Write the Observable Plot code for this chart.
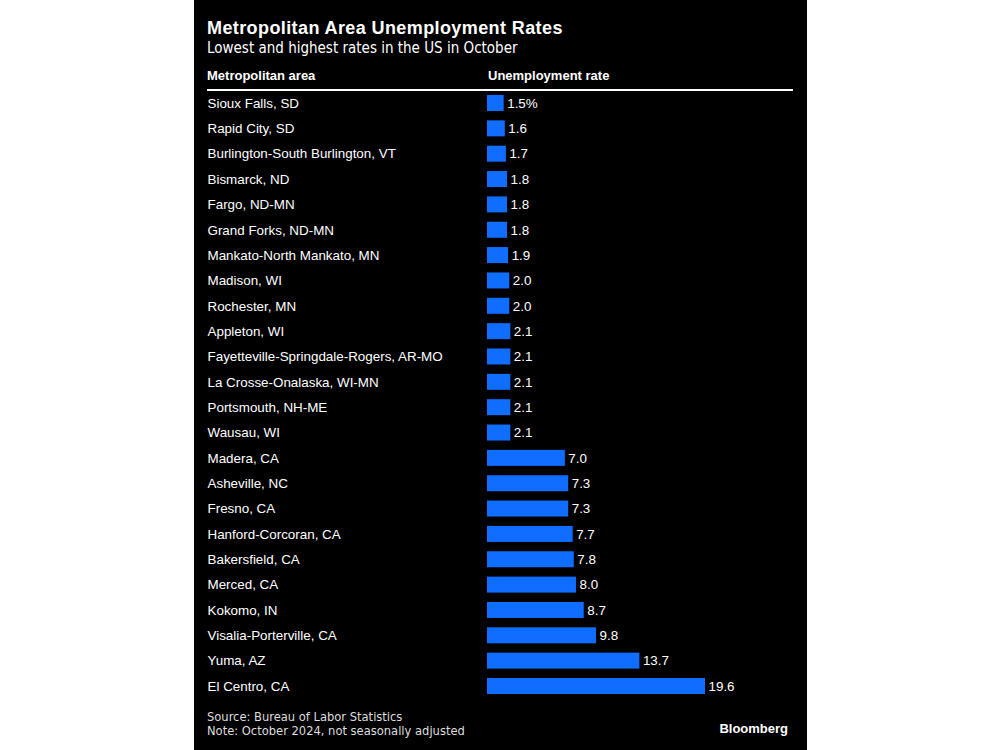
<!DOCTYPE html>
<html>
<head>
<meta charset="utf-8">
<script src="https://cdn.jsdelivr.net/npm/d3@7"></script>
<script src="https://cdn.jsdelivr.net/npm/@observablehq/plot@0.6"></script>
<style>
  html, body { margin: 0; padding: 0; background: #fff; width: 1000px; height: 750px; overflow: hidden; }
  #panel { position: absolute; left: 194px; top: 0; width: 613px; height: 750px; background: #000; color: #fff; font-family: "Liberation Sans", Arial, sans-serif; }
  .abs { position: absolute; white-space: nowrap; }
  #title { left: 13px; top: 18px; font-size: 18px; line-height: 20px; font-weight: bold; letter-spacing: 0.4px; }
  #subtitle { left: 13px; top: 40px; font-size: 15px; line-height: 16px; font-family: "Liberation Sans Narrow", "DejaVu Sans Condensed", "Liberation Sans", sans-serif; font-stretch: condensed; }
  .hdr { top: 68px; font-size: 13px; line-height: 15px; font-weight: bold; }
  #rule { left: 13px; top: 89px; width: 586px; height: 2px; background: #fff; }
  #chart { left: 0; top: 91px; }
  .foot { left: 13px; font-size: 12.8px; line-height: 14px; color: #ddd; font-family: "Liberation Sans Narrow", "DejaVu Sans Condensed", "Liberation Sans", sans-serif; font-stretch: condensed; }
  #logo { right: 19px; top: 721px; font-size: 13px; line-height: 15px; font-weight: bold; }
</style>
</head>
<body>
<div id="panel">
  <div id="title" class="abs">Metropolitan Area Unemployment Rates</div>
  <div id="subtitle" class="abs">Lowest and highest rates in the US in October</div>
  <div class="abs hdr" style="left:13px">Metropolitan area</div>
  <div class="abs hdr" style="left:294px">Unemployment rate</div>
  <div id="rule" class="abs"></div>
  <div id="chart" class="abs"></div>
  <div class="abs foot" style="top:710px">Source: Bureau of Labor Statistics</div>
  <div class="abs foot" style="top:724px">Note: October 2024, not seasonally adjusted</div>
  <div id="logo" class="abs">Bloomberg</div>
</div>
<script>
const metros = [
  "Sioux Falls, SD",
  "Rapid City, SD",
  "Burlington-South Burlington, VT",
  "Bismarck, ND",
  "Fargo, ND-MN",
  "Grand Forks, ND-MN",
  "Mankato-North Mankato, MN",
  "Madison, WI",
  "Rochester, MN",
  "Appleton, WI",
  "Fayetteville-Springdale-Rogers, AR-MO",
  "La Crosse-Onalaska, WI-MN",
  "Portsmouth, NH-ME",
  "Wausau, WI",
  "Madera, CA",
  "Asheville, NC",
  "Fresno, CA",
  "Hanford-Corcoran, CA",
  "Bakersfield, CA",
  "Merced, CA",
  "Kokomo, IN",
  "Visalia-Porterville, CA",
  "Yuma, AZ",
  "El Centro, CA"
];
const rates = [1.5, 1.6, 1.7, 1.8, 1.8, 1.8, 1.9, 2.0, 2.0, 2.1, 2.1, 2.1, 2.1, 2.1,
               7.0, 7.3, 7.3, 7.7, 7.8, 8.0, 8.7, 9.8, 13.7, 19.6];

const data = metros.map((m, i) => ({
  metro: m,
  rate: rates[i],
  label: i === 0 ? rates[i].toFixed(1) + "%" : rates[i].toFixed(1)
}));

const chart = Plot.plot({
  width: 613,
  height: 613,
  marginLeft: 293,
  marginRight: 102,
  marginTop: 4,
  marginBottom: 10,
  style: { background: "#000", color: "#fff", fontFamily: "Liberation Sans, Arial, sans-serif", fontSize: "13.4px" },
  x: { domain: [0, 19.6], axis: null },
  y: { domain: metros, axis: null, paddingInner: 0.369, paddingOuter: 0, round: false },
  marks: [
    Plot.barX(data, { x: "rate", y: "metro", fill: "#0f6dff" }),
    Plot.text(data, { x: "rate", y: "metro", text: "label", textAnchor: "start", dx: 3, fill: "#fff", fontSize: 13.4 }),
    Plot.text(data, { y: "metro", text: "metro", frameAnchor: "left", textAnchor: "start", dx: -280, fill: "#fff", fontSize: 13.4 })
  ]
});
document.getElementById("chart").appendChild(chart);
</script>
</body>
</html>
